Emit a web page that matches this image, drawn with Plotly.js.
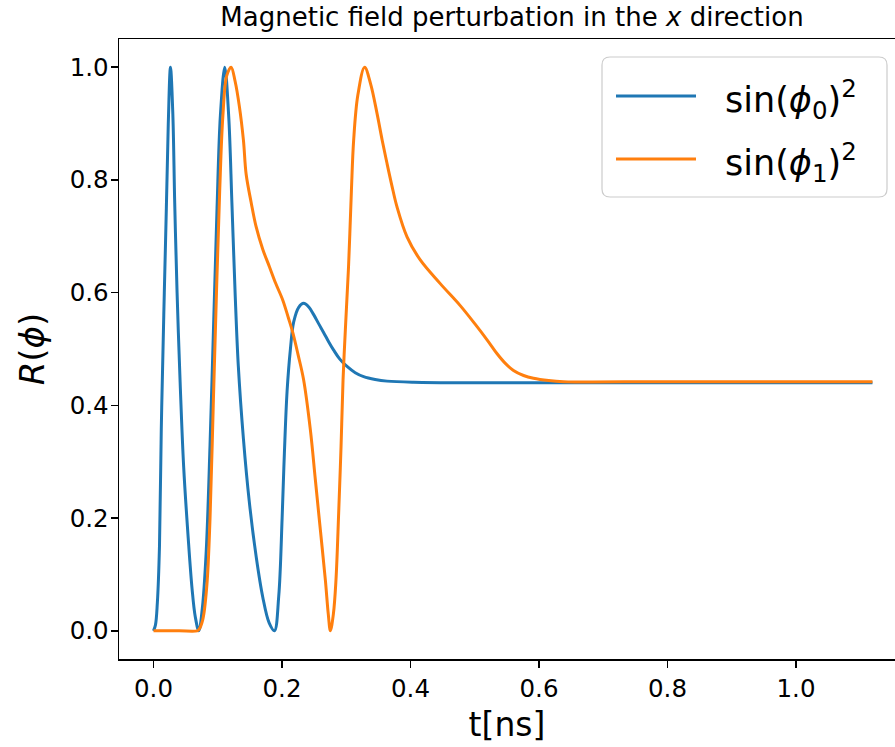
<!DOCTYPE html>
<html>
<head>
<meta charset="utf-8">
<script src="https://cdn.plot.ly/plotly-3.0.1.min.js"></script>
<style>html,body{margin:0;padding:0;background:#fff;}#chart{width:895px;height:747px;}</style>
</head>
<body>
<div id="chart"></div>
<script>
// ---- data ----
const seriesNames = ["sin(<i>ϕ</i><sub>0</sub>)<sup>2</sup>", "sin(<i>ϕ</i><sub>1</sub>)<sup>2</sup>"];

const t0 = [0.0000,0.0030,0.0060,0.0093,0.0121,0.0160,0.0200,0.0230,0.0264,0.0300,0.0330,0.0367,0.0418,0.0470,0.0540,0.0600,0.0650,0.0705,
            0.0760,0.0820,0.0880,0.0938,0.0989,0.1041,0.1109,0.1170,0.1220,0.1270,0.1320,0.1400,0.1490,0.1600,0.1700,0.1800,0.1882,
            0.1949,0.2002,0.2037,0.2079,0.2131,0.2182,0.2260,0.2337,0.2420,0.2493,0.2570,0.2649,0.2730,0.2804,0.2900,0.3012,0.3140,
            0.3271,0.3450,0.3635,0.4048,0.5000,0.7000,0.9000,1.1190];
const r0 = [0.000,0.010,0.050,0.150,0.357,0.560,0.750,0.900,1.000,0.920,0.760,0.600,0.430,0.290,0.165,0.075,0.025,0.000,
            0.040,0.140,0.330,0.553,0.750,0.914,1.000,0.914,0.760,0.600,0.470,0.340,0.230,0.130,0.060,0.014,0.000,
            0.061,0.200,0.315,0.425,0.500,0.548,0.574,0.581,0.574,0.561,0.545,0.529,0.512,0.498,0.482,0.469,0.458,
            0.451,0.446,0.443,0.441,0.440,0.440,0.440,0.440];

const t1 = [0.0000,0.0400,0.0680,0.0705,0.0767,0.0830,0.0880,0.0930,0.0980,0.1030,0.1080,0.1140,0.1208,0.1270,0.1337,0.1400,0.1442,
            0.1520,0.1597,0.1700,0.1804,0.1900,0.2011,0.2100,0.2166,0.2250,0.2337,0.2442,0.2519,0.2597,0.2675,0.2720,0.2753,
            0.2800,0.2840,0.2882,0.2919,0.2950,0.2986,0.3037,0.3080,0.3115,0.3180,0.3286,0.3380,0.3479,0.3560,0.3635,0.3710,
            0.3790,0.3946,0.4152,0.4463,0.4774,0.5000,0.5200,0.5345,0.5480,0.5603,0.5760,0.5914,0.6150,0.6381,0.8000,1.1190];
const r1 = [0.000,0.000,0.000,0.002,0.020,0.080,0.200,0.400,0.600,0.780,0.914,0.985,1.000,0.975,0.930,0.870,0.810,
            0.760,0.717,0.677,0.646,0.617,0.587,0.555,0.530,0.490,0.445,0.356,0.268,0.179,0.090,0.030,0.000,
            0.030,0.090,0.209,0.327,0.445,0.534,0.650,0.780,0.870,0.950,1.000,0.970,0.918,0.870,0.829,0.790,
            0.752,0.699,0.658,0.616,0.577,0.545,0.515,0.492,0.474,0.462,0.453,0.448,0.444,0.442,0.442,0.442];

const xTicks = [0.0,0.2,0.4,0.6,0.8,1.0];
const yTicks = [0.0,0.2,0.4,0.6,0.8,1.0];
const colors = ["#1f77b4", "#ff7f0e"];

const FONT = "DejaVu Sans, sans-serif";

const traces = [
  {x: t0, y: r0, mode: "lines", name: seriesNames[0], line: {color: colors[0], width: 3, shape: "spline", smoothing: 1}, showlegend: false},
  {x: t1, y: r1, mode: "lines", name: seriesNames[1], line: {color: colors[1], width: 3, shape: "spline", smoothing: 1}, showlegend: false}
];

// custom legend in paper coordinates
const L = 119, T = 39, W = 895 - 119, H = 659 - 39;
const px = v => (v - L) / W;
const py = v => (659 - v) / H;
function roundRect(x0, y0, x1, y1, r) {
  const rx = r / W, ry = r / H;
  const a = px(x0), b = px(x1), top = py(y0), bot = py(y1);
  return `M${a+rx},${top} L${b-rx},${top} Q${b},${top} ${b},${top-ry} L${b},${bot+ry} Q${b},${bot} ${b-rx},${bot} ` +
         `L${a+rx},${bot} Q${a},${bot} ${a},${bot+ry} L${a},${top-ry} Q${a},${top} ${a+rx},${top} Z`;
}
const legRows = [96, 159];
const shapes = [
  {type: "path", xref: "paper", yref: "paper", path: roundRect(602, 57, 887, 197, 8),
   line: {color: "#cccccc", width: 1.2}, fillcolor: "rgba(255,255,255,0.8)", layer: "above"}
];
const annotations = [];
legRows.forEach((ry, i) => {
  shapes.push({type: "line", xref: "paper", yref: "paper", x0: px(616), x1: px(696), y0: py(ry), y1: py(ry),
               line: {color: colors[i], width: 3}, layer: "above"});
  annotations.push({xref: "paper", yref: "paper", x: px(723), y: py(ry + 3), xanchor: "left", yanchor: "middle",
                    text: seriesNames[i], showarrow: false, font: {family: FONT, size: 35, color: "#000"}});
});

const layout = {
  width: 895, height: 747,
  margin: {l: L, r: 0, t: T, b: 747 - 659, pad: 0},
  paper_bgcolor: "#fff", plot_bgcolor: "#fff",
  font: {family: FONT, color: "#000"},
  title: {text: "Magnetic field perturbation in the <i>x</i> direction", font: {family: FONT, size: 26, color: "#000"},
          x: (512 - L) / W, xref: "paper", xanchor: "center", y: 1 - 17 / 747, yanchor: "middle"},
  xaxis: {range: [-0.0537, 1.1541], tickvals: xTicks, ticktext: xTicks.map(v => v.toFixed(1)),
          showgrid: false, zeroline: false, showline: true, linecolor: "#000", linewidth: 1.5, mirror: true,
          ticks: "outside", ticklen: 7, tickwidth: 1.5, tickcolor: "#000",
          tickfont: {family: FONT, size: 24.5, color: "#000"},
          title: {text: "t[ns]", font: {family: FONT, size: 33, color: "#000"}, standoff: 11}},
  yaxis: {range: [-0.05, 1.05], tickvals: yTicks, ticktext: yTicks.map(v => v.toFixed(1)),
          showgrid: false, zeroline: false, showline: true, linecolor: "#000", linewidth: 1.5,
          ticks: "outside", ticklen: 7, tickwidth: 1.5, tickcolor: "#000", ticklabelstandoff: -3,
          tickfont: {family: FONT, size: 24.5, color: "#000"},
          title: {text: "<i>R</i>(<i>ϕ</i>)", font: {family: FONT, size: 34, color: "#000"}, standoff: 14}},
  shapes: shapes,
  annotations: annotations,
  showlegend: false
};

Plotly.newPlot("chart", traces, layout, {staticPlot: true, displayModeBar: false});
</script>
</body>
</html>
